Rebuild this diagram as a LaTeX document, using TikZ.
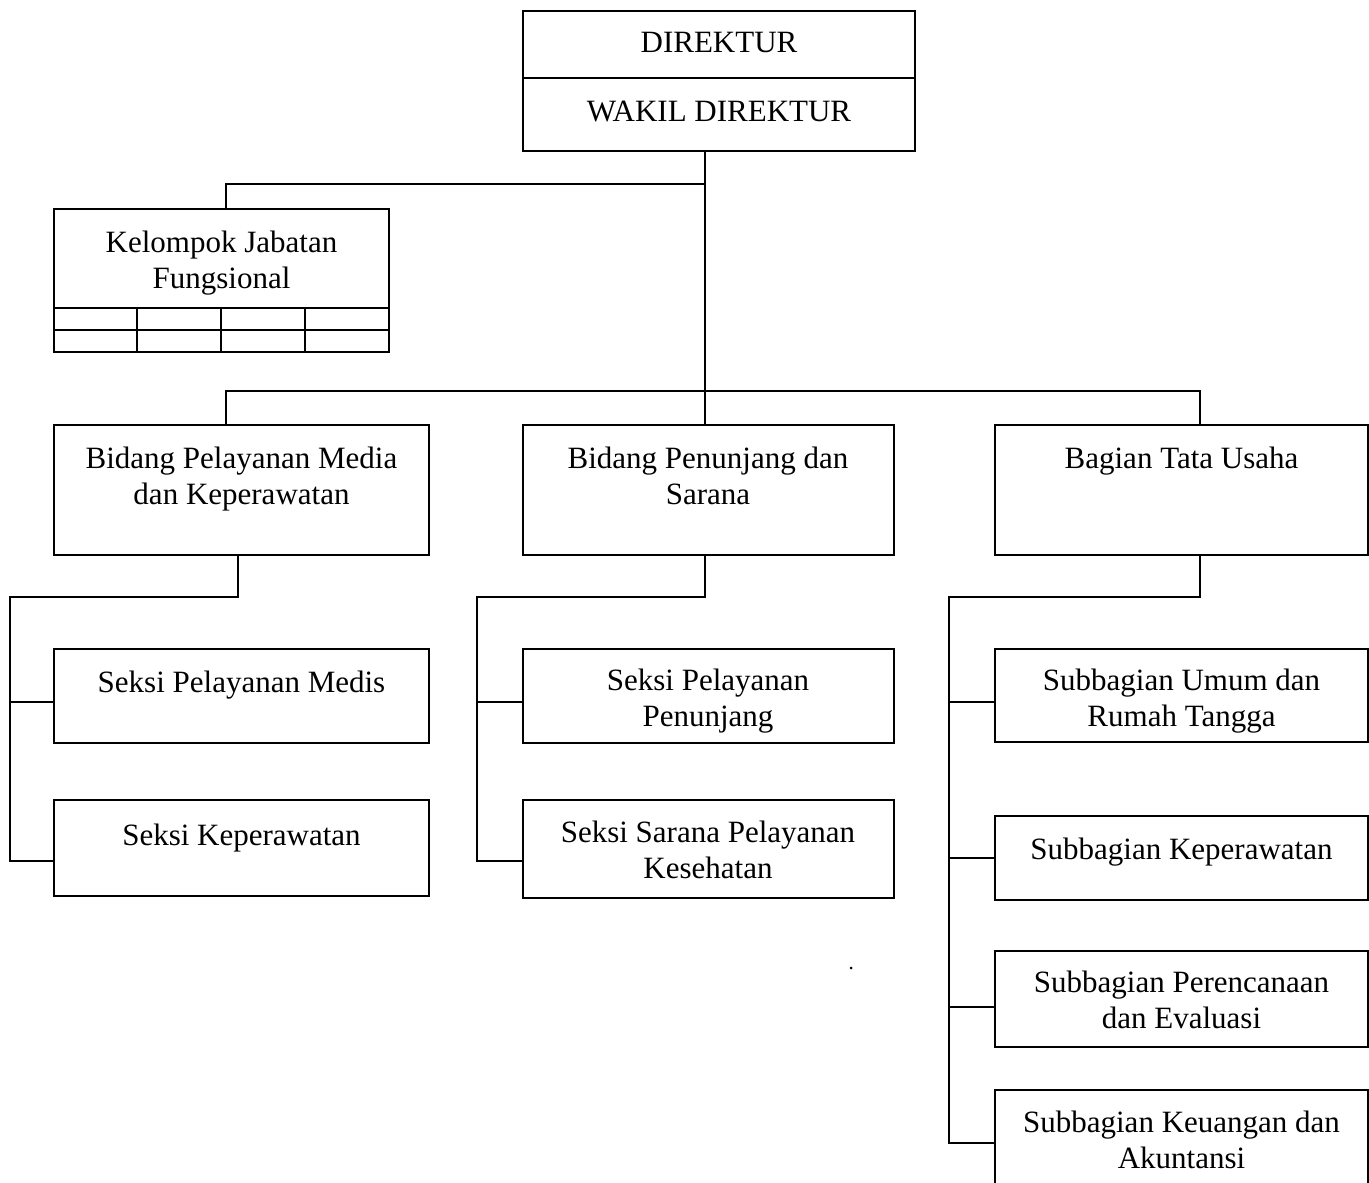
\documentclass[tikz,border=0pt]{standalone}
\usepackage{fontspec}
\setmainfont{Liberation Serif}
\usetikzlibrary{fit}
\begin{document}
\begin{tikzpicture}[x=0.5pt,y=-0.5pt, line width=1pt,
  box/.style={draw, inner sep=0pt, line width=1pt},
  txt/.style={align=center, anchor=base, inner sep=0pt, font=\fontsize{15.5}{18}\selectfont},
  conn/.style={line width=1pt}]
\useasboundingbox (0,0) rectangle (1369,1182);
% boxes
\node[box, fit={(523,11) (915,78)}] (dir) {};
\node[box, fit={(523,78) (915,151)}] (wak) {};
\node[box, fit={(54,209) (389,352)}] (kjf) {};
\node[box, fit={(54,425) (429,555)}] (bmed) {};
\node[box, fit={(523,425) (894,555)}] (bpen) {};
\node[box, fit={(995,425) (1368,555)}] (btu) {};
\node[box, fit={(54,649) (429,743)}] (spm) {};
\node[box, fit={(54,800) (429,896)}] (skp) {};
\node[box, fit={(523,649) (894,743)}] (spp) {};
\node[box, fit={(523,800) (894,898)}] (ssp) {};
\node[box, fit={(995,649) (1368,742)}] (sur) {};
\node[box, fit={(995,816) (1368,900)}] (skw) {};
\node[box, fit={(995,951) (1368,1047)}] (spe) {};
\node[box, fit={(995,1090) (1368,1210)}] (ske) {};
% table lines in Kelompok box
\draw (54,308) -- (389,308);
\draw (54,330) -- (389,330);
\foreach \xx in {137,221,305} \draw (\xx,308) -- (\xx,352);
% texts (base = baseline of last line)
\node[txt] (tdir) at (719,53) {DIREKTUR};
\node[txt] (twak) at (719,122) {WAKIL DIREKTUR};
\node[txt] (tkjf) at (221.5,288) {Kelompok Jabatan\\Fungsional};
\node[txt] (tbmed) at (241.5,504) {Bidang Pelayanan Media\\dan Keperawatan};
\node[txt] (tbpen) at (708,504) {Bidang Penunjang dan\\Sarana};
\node[txt] (tbtu) at (1181.5,468) {Bagian Tata Usaha};
\node[txt] (tspm) at (241.5,692) {Seksi Pelayanan Medis};
\node[txt] (tskp) at (241.5,845) {Seksi Keperawatan};
\node[txt] (tspp) at (708,726) {Seksi Pelayanan\\Penunjang};
\node[txt] (tssp) at (708,878) {Seksi Sarana Pelayanan\\Kesehatan};
\node[txt] (tsur) at (1181.5,726) {Subbagian Umum dan\\Rumah Tangga};
\node[txt] (tskw) at (1181.5,859) {Subbagian Keperawatan};
\node[txt] (tspe) at (1181.5,1028) {Subbagian Perencanaan\\dan Evaluasi};
\node[txt] (tske) at (1181.5,1168) {Subbagian Keuangan dan\\Akuntansi};
% junction coordinates
\coordinate (j0) at (705,184);
\coordinate (j1) at (705,391);
\coordinate (xl) at (226,0);
\coordinate (xr) at (1200,0);
\coordinate (a1) at (238,597); \coordinate (a2) at (10,597);
\coordinate (a3) at (54,702);  \coordinate (a4) at (54,861);
\coordinate (b1) at (705,597); \coordinate (b2) at (477,597);
\coordinate (b3) at (523,702); \coordinate (b4) at (523,861);
\coordinate (c1) at (1200,597); \coordinate (c2) at (949,597);
\coordinate (c3) at (995,702); \coordinate (c4) at (995,858);
\coordinate (c5) at (995,1007); \coordinate (c6) at (995,1143);
% connectors
\draw[conn] (wak.south -| j0) -- (bpen.north -| j0);
\draw[conn] (j0) -- (xl |- j0) -- (kjf.north -| xl);
\draw[conn] (bmed.north -| xl) -- (xl |- j1) -- (xr |- j1) -- (btu.north -| xr);
\draw[conn] (bmed.south -| a1) -- (a1) -- (a2) |- (a4);
\draw[conn] (a2 |- a3) -- (a3);
\draw[conn] (bpen.south -| b1) -- (b1) -- (b2) |- (b4);
\draw[conn] (b2 |- b3) -- (b3);
\draw[conn] (btu.south -| c1) -- (c1) -- (c2) |- (c6);
\draw[conn] (c2 |- c3) -- (c3);
\draw[conn] (c2 |- c4) -- (c4);
\draw[conn] (c2 |- c5) -- (c5);
% stray dot
\fill (851,968) circle (1.5);
\end{tikzpicture}
\end{document}
